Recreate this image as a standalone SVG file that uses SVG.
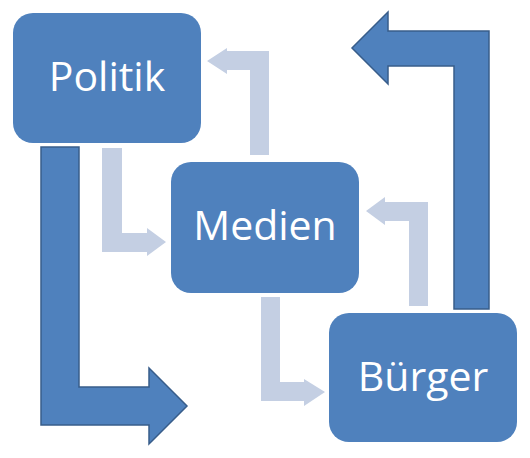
<svg xmlns="http://www.w3.org/2000/svg" width="530" height="458" viewBox="0 0 530 458">
<style>
.box{fill:#4F81BD}
.lbl{fill:#FFFFFF;font-family:"Open Sans","Liberation Sans",sans-serif;font-size:41px;text-anchor:middle}
.big{fill:#4F81BD;stroke:#385D8A;stroke-width:1.5;stroke-linejoin:miter}
.light{fill:#C4CFE3}
</style>
<rect width="530" height="458" fill="#FFFFFF"/>
<g id="connectors">
<path class="light" d="M250,155 L250,70 L227,70 L227,74 L207,61 L227,48 L227,51 L269,51 L269,155 Z"/>
<path class="light" d="M102,148 L122,148 L122,233 L147,233 L147,228 L166,242 L147,256 L147,252 L102,252 Z"/>
<path class="light" d="M261,297 L280,297 L280,382 L304,382 L304,379 L325,392 L304,406 L304,401 L261,401 Z"/>
<path class="light" d="M428,306 L409,306 L409,221 L385,221 L385,225 L366,211 L385,197 L385,202 L428,202 Z"/>
<path class="big" d="M41,147 L79,147 L79,387 L149,387 L149,368 L187,406 L149,444 L149,425 L41,425 Z"/>
<path class="big" d="M489,309 L454,309 L454,66 L388,66 L388,84 L352,48 L388,12 L388,31 L489,31 Z"/>
</g>
<g id="politik">
<rect class="box" x="13" y="13" width="188" height="130" rx="20"/>
<text class="lbl" x="107" y="91">Politik</text>
</g>
<g id="medien">
<rect class="box" x="171" y="162" width="188" height="131" rx="20"/>
<text class="lbl" x="265" y="240">Medien</text>
</g>
<g id="buerger">
<rect class="box" x="329" y="313" width="188" height="129" rx="20"/>
<text class="lbl" x="423" y="391">Bürger</text>
</g>
</svg>
